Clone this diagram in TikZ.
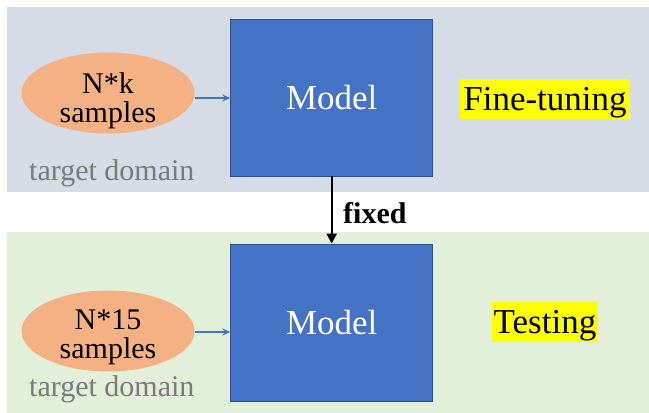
\documentclass[tikz,border=0pt]{standalone}
\usepackage{fontspec}
\setmainfont{Liberation Serif}
\usetikzlibrary{shapes.geometric,arrows.meta,calc}

\definecolor{panelgray}{HTML}{D6DCE5}
\definecolor{panelgreen}{HTML}{E2F0D9}
\definecolor{samplefill}{HTML}{F4B183}
\definecolor{modelfill}{HTML}{4472C4}
\definecolor{modeledge}{HTML}{2F528F}
\definecolor{linkblue}{HTML}{4472C4}
\definecolor{domaingray}{HTML}{7A7A7A}
\definecolor{hl}{HTML}{FFFF00}

\tikzset{
  samplebox/.style={ellipse, fill=samplefill, draw=none,
    minimum width=173pt, minimum height=81pt, inner sep=0pt},
  sampletext/.style={align=center, inner sep=0pt, anchor=base,
    font=\fontsize{30}{29}\selectfont},
  modelbox/.style={rectangle, fill=modelfill, draw=modeledge, line width=0.8pt,
    minimum width=202pt, minimum height=157pt, inner sep=0pt,
    text=white, font=\fontsize{35}{40}\selectfont},
  domainlabel/.style={anchor=base west, inner sep=0pt, text=domaingray,
    font=\fontsize{30}{34}\selectfont},
  phaselabel/.style={fill=hl, inner sep=0pt, anchor=base,
    text height=31pt, text depth=9pt,
    font=\fontsize{35}{40}\selectfont},
  feed/.style={draw=linkblue, line width=1.5pt,
    -{Stealth[length=8pt,width=7pt]}},
  carry/.style={draw=black, line width=2.4pt,
    -{Triangle[length=10pt,width=10pt]}},
}

\begin{document}
\begin{tikzpicture}[x=1pt,y=-1pt]
  \useasboundingbox (0,0) rectangle (649,413);
  \fill[white] (0,0) rectangle (649,413);

  % background bands for the two stages
  \fill[panelgray]  (7,7)   rectangle (649,192);
  \fill[panelgreen] (7,232) rectangle (649,413);

  % fine-tuning stage
  \node[samplebox] (e1) at (108,93) {};
  \node[sampletext] (t1) at (108,122) {N*k\\samples};
  \node[domainlabel] (d1) at (29,180) {target domain};
  \node[modelbox] (m1) at (331.7,97.5) {Model};
  \node[phaselabel, minimum width=170pt] (p1) at (545,110) {Fine-tuning};
  \draw[feed] ([yshift=-5pt]e1.east) -- ([yshift=-5pt]e1.east -| m1.west);

  % testing stage
  \node[samplebox] (e2) at (108,331) {};
  \node[sampletext] (t2) at (108,358) {N*15\\samples};
  \node[domainlabel] (d2) at (29,396) {target domain};
  \node[modelbox] (m2) at (331.7,322.5) {Model};
  \node[phaselabel, minimum width=106pt] (p2) at (545,333) {Testing};
  \draw[feed] ([yshift=-1pt]e2.east) -- ([yshift=-1pt]e2.east -| m2.west);

  % parameters carried over
  \draw[carry] (m1.south) -- (m2.north);
  \node[anchor=base west, inner sep=0pt, font=\bfseries\fontsize{30}{34}\selectfont]
    (fx) at (343,223) {fixed};
\end{tikzpicture}
\end{document}
